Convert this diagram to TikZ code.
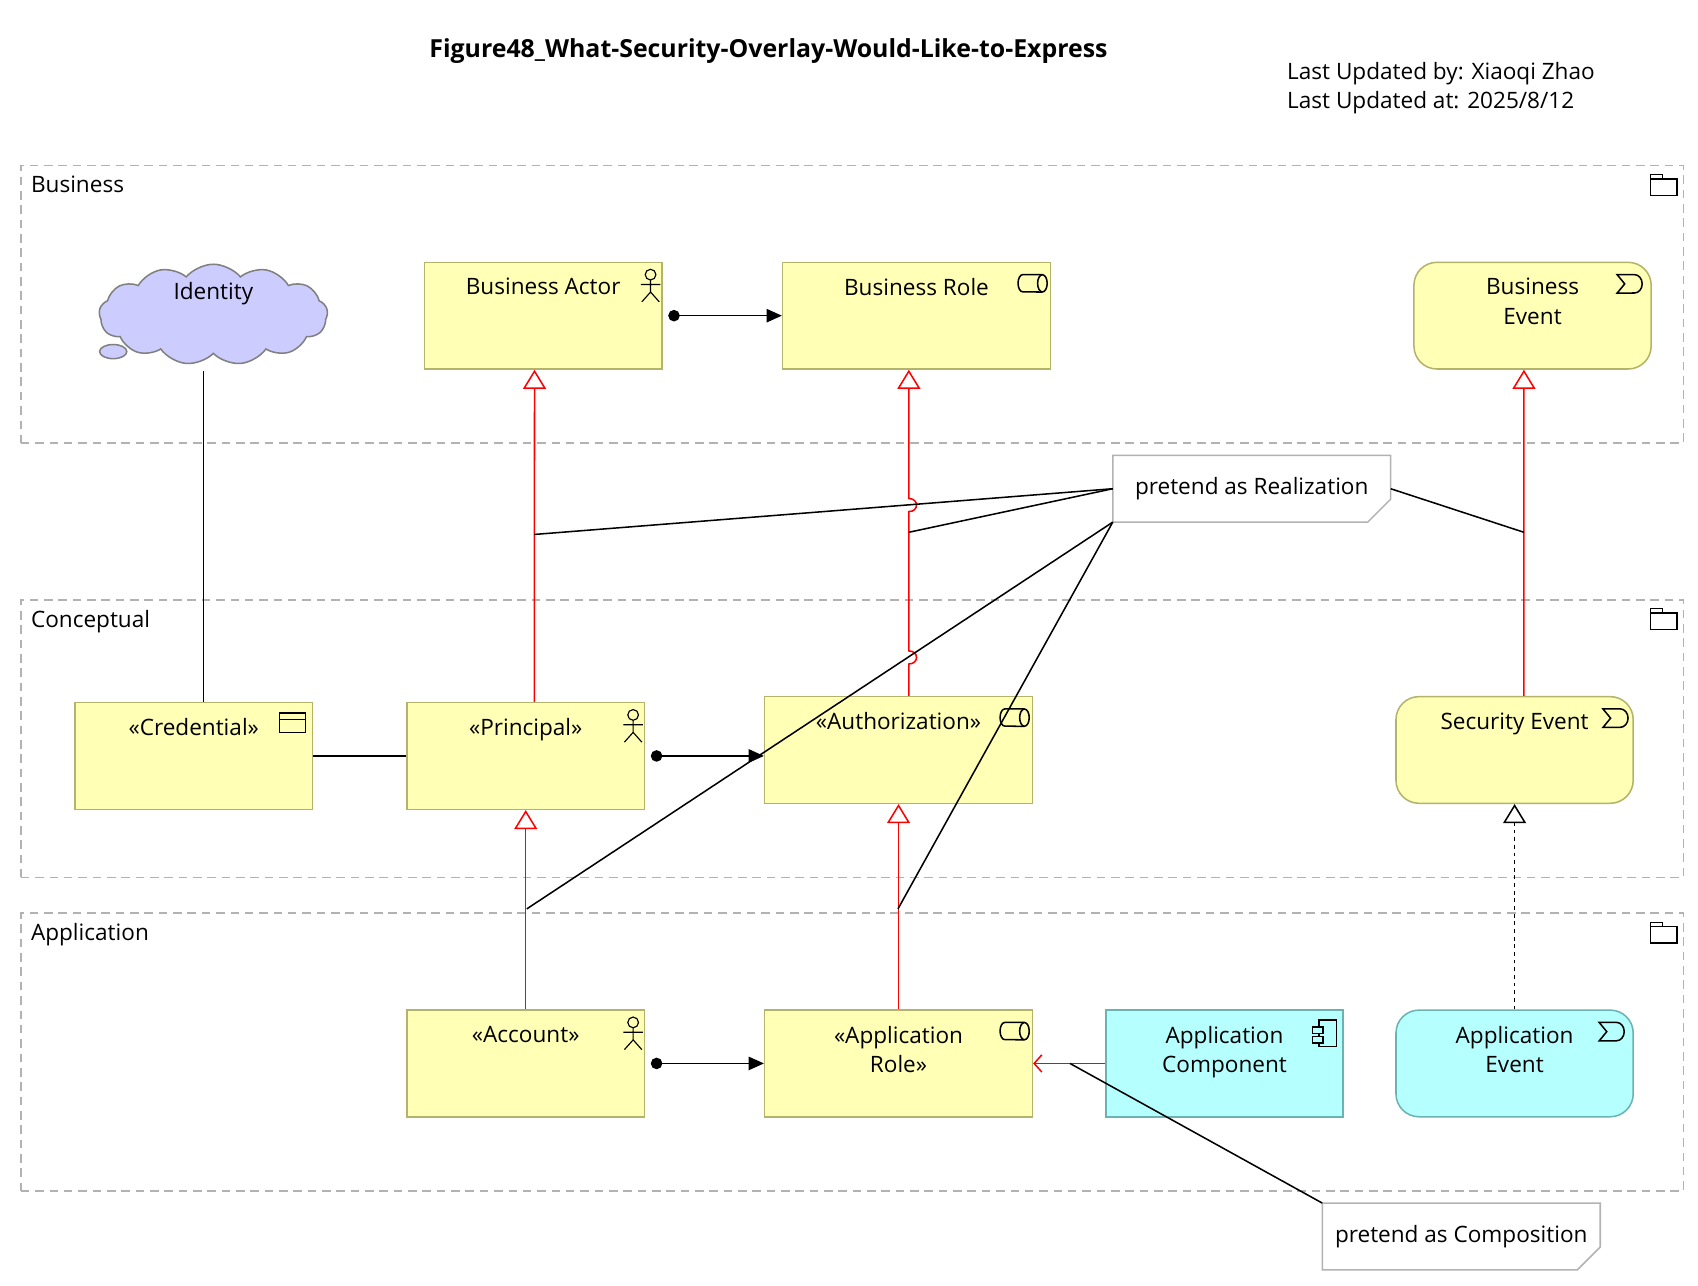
\documentclass[tikz,border=0pt]{standalone}
\usepackage{fontspec}
\setmainfont{Open Sans}
\usetikzlibrary{arrows.meta}
\usetikzlibrary{shapes.symbols}
\usetikzlibrary{shapes.geometric}
\usetikzlibrary{calc}
\definecolor{bizfill}{HTML}{FFFFB5}
\definecolor{bizdraw}{HTML}{B3B36B}
\definecolor{appfill}{HTML}{B5FFFF}
\definecolor{appdraw}{HTML}{6BB3B3}
\definecolor{idfill}{HTML}{CCCCFF}
\tikzset{
	every path/.style={line width=0.8pt},
	every node/.style={font=\fontsize{11.8}{15.5}\selectfont},
	grp/.style={
		draw=gray!60,
		dash pattern=on 4.5pt off 3pt,
		minimum width=30.56cm,
		minimum height=5.1cm,
	},
	biz/.style={
		draw=bizdraw,
		fill=bizfill,
		minimum width=4.36cm,
		minimum height=1.96cm,
	},
	bizwide/.style={
		biz,
		minimum width=4.92cm,
	},
	app/.style={
		biz,
		draw=appdraw,
		fill=appfill,
	},
	evt/.style={rounded corners=12pt},
	top/.style={
		label={[anchor=north,yshift=-5pt,align=center]north:#1}
	},
	note/.style={
		minimum width=5.08cm,
		minimum height=1.2cm,
	},
	real/.style={
		red,
		-{Triangle[open,length=10pt,width=12pt]}
	},
	flow/.style={
		{Circle[length=6pt]}-{Triangle[length=8pt,width=7pt]},
		shorten <=3pt,
	},
	pics/actor/.style={code={
		\draw[line width=0.6pt] (-11,12) circle[radius=2.8pt];
		\draw[line width=0.6pt] (-11,17) -- (-11,28) (-20,21) -- (-2,21)
			(-19,37) -- (-11,28) -- (-3,37);
	}},
	pics/role/.style={code={
		\draw[line width=0.8pt] (-8,12) -- (-26,12)
			arc[start angle=90,end angle=270,x radius=2.5pt,y radius=4.5pt]
			-- (-8,28);
		\draw[line width=0.8pt] (-8,20) ellipse[x radius=2.5pt,y radius=4.5pt];
	}},
	pics/event/.style={code={
		\draw[line width=0.8pt] (-32,12) -- (-16,12)
			arc[start angle=90,end angle=-90,x radius=4pt,y radius=4.8pt]
			-- (-32,29) -- (-25,20.5) -- cycle;
	}},
	pics/comp/.style={code={
		\draw[line width=0.8pt] (-23,10) rectangle (-7,34);
		\draw[line width=0.8pt,fill=appfill] (-29,16) rectangle (-19,22)
			(-29,25) rectangle (-19,31);
	}},
	pics/obj/.style={code={
		\draw[line width=0.8pt] (-31,10) rectangle (-7,28) (-31,16) -- (-7,16);
	}},
	pics/folder/.style={code={
		\draw[line width=0.7pt] (-31,13) rectangle (-7,28) (-31,13) -- (-31,9) -- (-20,9) -- (-20,13);
	}},
}

\begin{document}
\begin{tikzpicture}[x=0.02cm,y=-0.02cm]
	\useasboundingbox (0,0) rectangle (1560,1181);

	\node[font=\fontsize{13}{16}\selectfont\bfseries] (title) at (706,47) {Figure48\_What-Security-Overlay-Would-Like-to-Express};
	\node[anchor=west,align=left] (upd) at (1176,81) {Last Updated by: Xiaoqi Zhao\\Last Updated at: 2025/8/12};

	% layers
	\node[grp,label={[anchor=north west,xshift=2pt,yshift=-2pt]north west:Business}] (gbiz) at (783,279.5) {};
	\node[grp,label={[anchor=north west,xshift=2pt,yshift=-2pt]north west:Conceptual}] (gcon) at (783,678.5) {};
	\node[grp,label={[anchor=north west,xshift=2pt,yshift=-2pt]north west:Application}] (gapp) at (783,966.5) {};
	\pic at (gbiz.north east) {folder};
	\pic at (gcon.north east) {folder};
	\pic at (gapp.north east) {folder};

	% business
	\node[cloud,cloud puffs=13,cloud puff arc=100,aspect=2.3,draw=gray,fill=idfill,minimum width=4.2cm,minimum height=1.85cm,inner sep=0pt,
		label={[anchor=north,yshift=-6pt]north:Identity}] (ident) at (196,289) {};
	\node[ellipse,draw=gray,fill=idfill,minimum width=0.5cm,minimum height=0.26cm,inner sep=0pt] (puff) at (104,323) {};
	\node[biz,top={Business Actor}] (bact) at (499,290) {};
	\node[bizwide,top={Business Role}] (brole) at (842,290) {};
	\node[biz,evt,top={Business\\Event}] (bevent) at (1408,290) {};
	\pic at (bact.north east) {actor};
	\pic at (brole.north east) {role};
	\pic at (bevent.north east) {event};

	% conceptual
	\node[biz,top={«Credential»}] (cred) at (178,694.5) {};
	\node[biz,top={«Principal»}] (princ) at (483,694.5) {};
	\node[bizwide,top={«Authorization»}] (auth) at (825.5,689) {};
	\node[biz,evt,top={Security Event}] (secev) at (1391.5,689) {};
	\pic at (cred.north east) {obj};
	\pic at (princ.north east) {actor};
	\pic at (auth.north east) {role};
	\pic at ([xshift=2pt]secev.north east) {event};

	% application
	\node[biz,top={«Account»}] (acct) at (483,977) {};
	\node[bizwide,top={«Application\\Role»}] (arole) at (825.5,977) {};
	\node[app,top={Application\\Component}] (acomp) at (1125,977) {};
	\node[app,evt,top={Application\\Event}] (aevent) at (1391.5,977) {};
	\pic at (acct.north east) {actor};
	\pic at (arole.north east) {role};
	\pic at (acomp.north east) {comp};
	\pic at (aevent.north east) {event};

	% notes
	\node[note] (nreal) at (1150,449) {pretend as Realization};
	\node[note] (ncomp) at (1342.5,1136) {pretend as Composition};
	\draw[gray!60] (nreal.north west) -- (nreal.north east) -- ([yshift=12pt]nreal.south east)
		-- ([xshift=-12pt]nreal.south east) -- (nreal.south west) -- cycle;
	\draw[gray!60] (ncomp.north west) -- (ncomp.north east) -- ([yshift=12pt]ncomp.south east)
		-- ([xshift=-12pt]ncomp.south east) -- (ncomp.south west) -- cycle;

	% relations
	\coordinate (idfoot) at (187,341);
	\draw (idfoot) -- (idfoot |- cred.north);
	\draw (cred.east) -- (princ.west);
	\draw[flow] (bact.east) -- (brole.west);
	\draw[flow] (princ.east) -- (auth.west |- princ.east);
	\draw[flow] (acct.east) -- (arole.west);

	\draw[real] ([xshift=4.5pt]princ.north) -- ([xshift=-4.5pt]bact.south);
	\draw[real] ([xshift=5.4pt]auth.north) -- (835,610) to[out=0,in=0,looseness=2] (835,598)
		-- (835,470) to[out=0,in=0,looseness=2] (835,458) -- ([xshift=-4pt]brole.south);
	\draw[real] ([xshift=4.8pt]secev.north) -- ([xshift=-4.5pt]bevent.south);
	\draw[real] (acct.north) -- (princ.south);
	\draw[real] (arole.north) -- (auth.south);
	\draw[dash pattern=on 2pt off 2pt,-{Triangle[open,length=10pt,width=12pt]}] (aevent.north) -- (secev.south);
	\draw[red,-{Straight Barb[length=4pt,width=9pt]}] (acomp.west) -- (arole.east);

	% note links
	\coordinate (pa) at (491,491);
	\coordinate (pr) at (835,489);
	\coordinate (pe) at (1400,489);
	\coordinate (pp) at (484,835);
	\coordinate (pz) at (825,835);
	\coordinate (pc) at (983,977);
	\draw (nreal.west) -- (pa);
	\draw (nreal.west) -- (pr);
	\draw (nreal.east) -- (pe);
	\draw (nreal.south west) -- (pp);
	\draw (nreal.south west) -- (pz);
	\draw (ncomp.north west) -- (pc);
\end{tikzpicture}
\end{document}
